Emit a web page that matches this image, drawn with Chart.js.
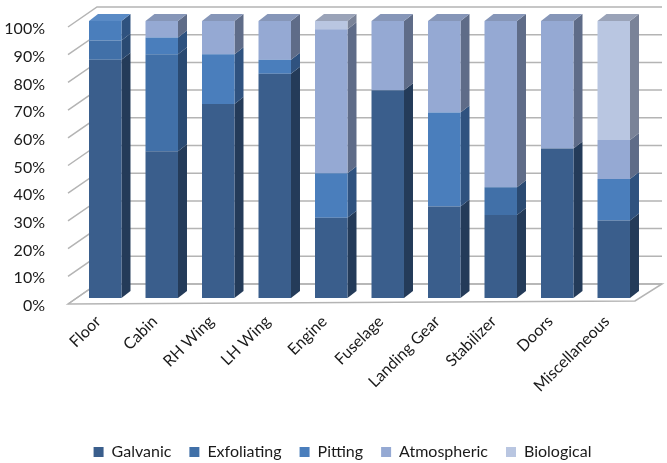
<!DOCTYPE html>
<html>
<head>
<meta charset="utf-8">
<script src="https://cdn.jsdelivr.net/npm/chart.js@4.4.0/dist/chart.umd.min.js"></script>
<style>
  html, body { margin: 0; padding: 0; background: #ffffff; }
  #wrap { width: 667px; height: 463px; position: relative; }
</style>
</head>
<body>
<div id="wrap"><canvas id="chart" width="667" height="463"></canvas></div>
<script>
// Corrosion types by aircraft zone (share of findings, %)
const categories = ['Floor', 'Cabin', 'RH Wing', 'LH Wing', 'Engine', 'Fuselage', 'Landing Gear', 'Stabilizer', 'Doors', 'Miscellaneous'];
const galvanic    = [86, 53, 70, 81, 29, 75, 33, 30, 54, 28];
const exfoliating = [ 7, 35,  0,  0,  0,  0,  0, 10,  0,  0];
const pitting     = [ 7,  6, 18,  5, 16,  0, 34,  0,  0, 15];
const atmospheric = [ 0,  6, 12, 14, 52, 25, 33, 60, 46, 14];
const biological  = [ 0,  0,  0,  0,  3,  0,  0,  0,  0, 43];
const yTicks = [0, 10, 20, 30, 40, 50, 60, 70, 80, 90, 100];

const seriesNames = ['Galvanic', 'Exfoliating', 'Pitting', 'Atmospheric', 'Biological'];
const seriesData = [galvanic, exfoliating, pitting, atmospheric, biological];
// front, side and top shades per series
const fronts = ['#3a5e8c', '#4170a8', '#4a7ebc', '#95a9d3', '#b9c6e1'];
const sides  = ['#243b59', '#2a4a72', '#2f527f', '#5f6c88', '#7a8398'];
const tops   = ['#4a6d99', '#4f7db3', '#5a8bc6', '#8696b8', '#9aa3b8'];

const FONT = 'Lato, "DejaVu Sans", sans-serif';
const FONT_SIZE = 16;
const TEXT = '#1a1a1a';
const GRID = '#b4b4b4';
const BAR_DX = 9, BAR_DY = -7;      // column depth
const WALL_BACK_DX = 20, WALL_BACK_DY = -14; // back wall offset from column fronts
const LEGEND_SHIFT = 9;             // legend sits a little right of the canvas centre

function poly(ctx, pts, fill, stroke) {
  ctx.beginPath();
  ctx.moveTo(pts[0][0], pts[0][1]);
  for (let k = 1; k < pts.length; k++) ctx.lineTo(pts[k][0], pts[k][1]);
  ctx.closePath();
  if (fill) { ctx.fillStyle = fill; ctx.fill(); }
  if (stroke) { ctx.strokeStyle = stroke; ctx.stroke(); }
}

const box3d = {
  id: 'box3d',
  afterLayout(chart) {
    if (chart.legend) {
      chart.legend.left += LEGEND_SHIFT;
      chart.legend.right += LEGEND_SHIFT;
    }
  },
  beforeDatasetsDraw(chart) {
    const ctx = chart.ctx;
    const ys = chart.scales.y;
    const area = chart.chartArea;
    const L = area.left, R = area.right;
    const y0 = ys.getPixelForValue(0);
    ctx.save();
    ctx.lineWidth = 1.5;

    // floor
    poly(ctx, [
      [L - 9, y0 + 6],
      [L + WALL_BACK_DX, y0 + WALL_BACK_DY],
      [R + WALL_BACK_DX, y0 + WALL_BACK_DY],
      [R - 7, y0 + 3]
    ], '#ffffff', GRID);

    // back wall grid and side wall diagonals
    ctx.strokeStyle = GRID;
    yTicks.forEach(v => {
      const y = ys.getPixelForValue(v);
      ctx.beginPath();
      ctx.moveTo(L - 9, y + 6);
      ctx.lineTo(L + WALL_BACK_DX, y + WALL_BACK_DY);
      ctx.lineTo(R + WALL_BACK_DX, y + WALL_BACK_DY);
      ctx.stroke();
    });

    // column sides and tops
    const n = chart.data.labels.length;
    for (let i = 0; i < n; i++) {
      let topIdx = -1;
      chart.data.datasets.forEach((ds, d) => {
        const v = ds.data[i];
        if (!v) return;
        const bar = chart.getDatasetMeta(d).data[i];
        const right = bar.x + bar.width / 2;
        poly(ctx, [
          [right, bar.y],
          [right + BAR_DX, bar.y + BAR_DY],
          [right + BAR_DX, bar.base + BAR_DY],
          [right, bar.base]
        ], sides[d]);
        topIdx = d;
      });
      if (topIdx >= 0) {
        const bar = chart.getDatasetMeta(topIdx).data[i];
        const left = bar.x - bar.width / 2, right = bar.x + bar.width / 2;
        poly(ctx, [
          [left, bar.y],
          [left + BAR_DX, bar.y + BAR_DY],
          [right + BAR_DX, bar.y + BAR_DY],
          [right, bar.y]
        ], tops[topIdx]);
      }
    }
    ctx.restore();
  }
};

new Chart(document.getElementById('chart'), {
  type: 'bar',
  data: {
    labels: categories,
    datasets: seriesNames.map((name, d) => ({
      label: name,
      data: seriesData[d],
      backgroundColor: fronts[d],
      borderWidth: 0,
      barPercentage: 0.575,
      categoryPercentage: 1.0
    }))
  },
  options: {
    responsive: false,
    animation: false,
    devicePixelRatio: 1,
    layout: { padding: { top: 21, right: 0, left: 0, bottom: -7 } },
    plugins: {
      tooltip: { enabled: false },
      legend: {
        position: 'bottom',
        labels: {
          font: { family: FONT, size: FONT_SIZE },
          color: TEXT,
          boxWidth: 10,
          boxHeight: 10,
          padding: 18
        }
      }
    },
    scales: {
      x: {
        stacked: true,
        grid: { display: false },
        border: { display: false },
        ticks: {
          font: { family: FONT, size: FONT_SIZE },
          color: TEXT,
          maxRotation: 45,
          minRotation: 45,
          padding: 6,
          labelOffset: -7
        },
        afterFit(scale) { scale.height = 128; }
      },
      y: {
        stacked: true,
        min: 0,
        max: 100,
        grid: { display: false },
        border: { display: false },
        ticks: {
          stepSize: 10,
          font: { family: FONT, size: FONT_SIZE },
          color: TEXT,
          padding: 24,
          labelOffset: 8,
          callback: v => v + '%'
        },
        afterFit(scale) {
          scale.width = 77;
          scale.paddingTop = 0;
          scale.paddingBottom = 0;
        }
      },
      // empty right-hand strip that holds room for the 3D walls
      yRight: {
        position: 'right',
        min: 0,
        max: 100,
        grid: { display: false },
        border: { display: false },
        ticks: { display: false },
        afterFit(scale) {
          scale.width = 25;
          scale.paddingTop = 0;
          scale.paddingBottom = 0;
        }
      }
    }
  },
  plugins: [box3d]
});
</script>
</body>
</html>
